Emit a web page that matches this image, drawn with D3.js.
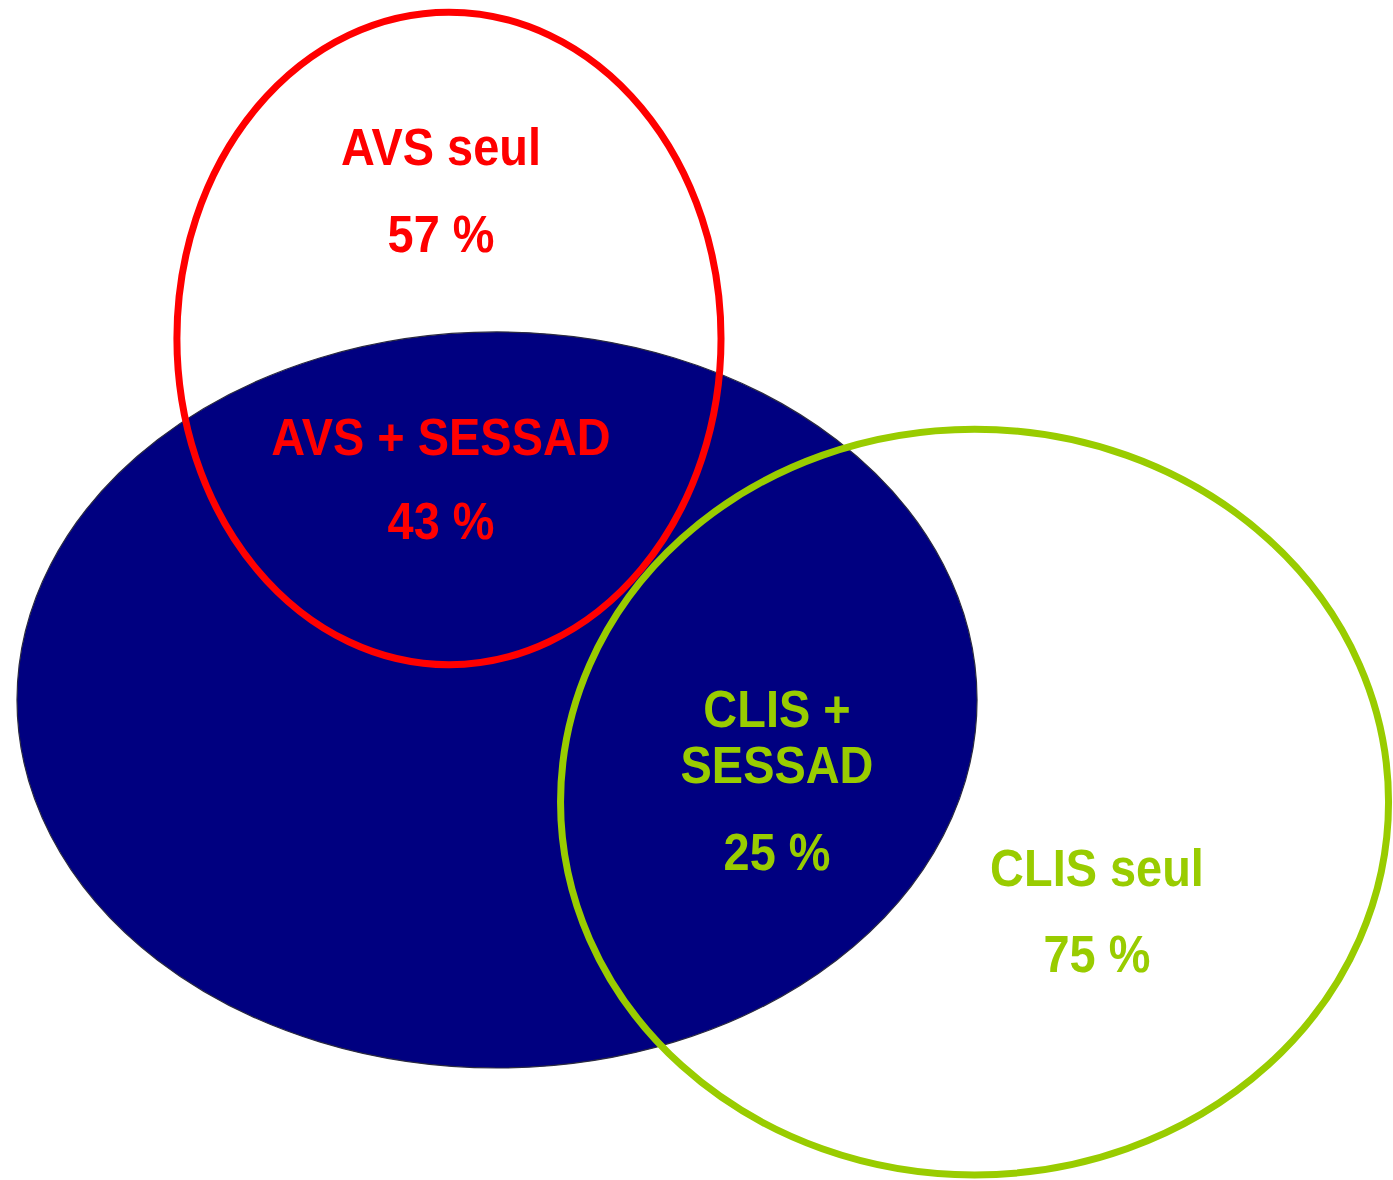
<!DOCTYPE html>
<html>
<head>
<meta charset="utf-8">
<script src="https://cdn.jsdelivr.net/npm/d3@7"></script>
<style>
  html, body { margin: 0; padding: 0; background: #fff; }
  svg { display: block; }
</style>
</head>
<body>
<div id="chart"></div>
<script>
// sets of the diagram
const setNames = ['SESSAD', 'AVS', 'CLIS'];
const setColors = ['#000080', '#ff0000', '#99cc00'];

// region labels: [set index, title lines, percent]
const regionSets = [1, 1, 2, 2];
const regionTitles = [['AVS seul'], ['AVS + SESSAD'], ['CLIS +', 'SESSAD'], ['CLIS seul']];
const regionPercents = [57, 43, 25, 75];

const width = 1393;
const height = 1180;

// layout in a 0..100 unit space, mapped to pixels through scales
const x = d3.scaleLinear().domain([0, 100]).range([0, width]);
const y = d3.scaleLinear().domain([0, 100]).range([0, height]);

// ellipse geometry per set (cx, cy, rx, ry in unit space)
const ellipses = [
  { cx: 35.68, cy: 59.32, rx: 34.46, ry: 31.19 },
  { cx: 32.23, cy: 28.68, rx: 19.53, ry: 27.65 },
  { cx: 69.96, cy: 67.97, rx: 29.72, ry: 31.6 }
];

// label anchor per region (unit space): title baseline, percent baseline
const labelPos = [
  { x: 31.66, ty: 13.98, py: 21.36 },
  { x: 31.66, ty: 38.56, py: 45.68 },
  { x: 55.78, ty: 61.6, py: 73.73 },
  { x: 78.75, ty: 75.08, py: 82.37 }
];

const svg = d3.select('#chart')
  .append('svg')
  .attr('width', width)
  .attr('height', height);

const sets = setNames.map((name, i) => ({ name, color: setColors[i], ...ellipses[i] }));

svg.append('g')
  .selectAll('ellipse')
  .data(sets)
  .join('ellipse')
  .attr('cx', (d) => x(d.cx))
  .attr('cy', (d) => y(d.cy))
  .attr('rx', (d) => x(d.rx))
  .attr('ry', (d) => y(d.ry))
  .attr('fill', (d, i) => (i === 0 ? d.color : 'none'))
  .attr('stroke', (d, i) => (i === 0 ? '#2a2a40' : d.color))
  .attr('stroke-width', (d, i) => (i === 0 ? 1.2 : 7));

const fontSize = 51;
const lineGap = 56;

const regions = regionTitles.map((t, i) => ({
  title: t,
  pct: regionPercents[i],
  color: setColors[regionSets[i]],
  ...labelPos[i]
}));

const labels = svg.append('g')
  .attr('font-family', '"Liberation Sans", Arial, sans-serif')
  .attr('font-weight', 'bold')
  .attr('font-size', fontSize)
  .attr('text-anchor', 'middle')
  .selectAll('g')
  .data(regions)
  .join('g')
  .attr('fill', (d) => d.color);

labels.each(function (d) {
  const g = d3.select(this);
  d.title.forEach((line, j) => {
    g.append('text')
      .attr('transform', `translate(${x(d.x)},${y(d.ty) + j * lineGap}) scale(0.92,1)`)
      .text(line);
  });
  g.append('text')
    .attr('transform', `translate(${x(d.x)},${y(d.py)}) scale(0.92,1)`)
    .text(`${d.pct} %`);
});
</script>
</body>
</html>
